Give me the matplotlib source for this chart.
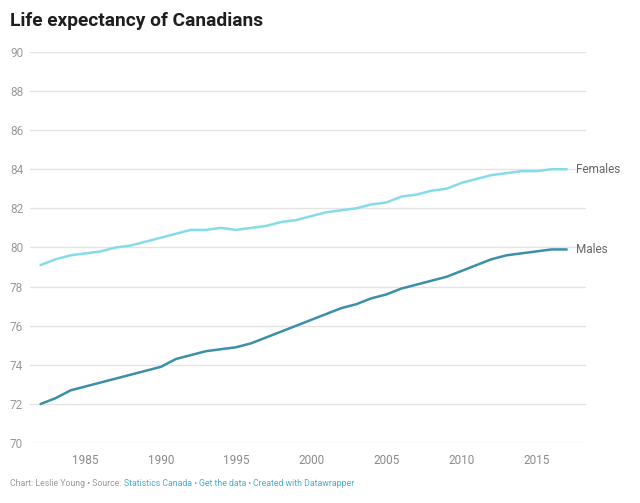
import matplotlib
matplotlib.use('Agg')
import matplotlib.pyplot as plt

years = list(range(1982, 2018))
females = [79.1, 79.4, 79.6, 79.7, 79.8, 80.0, 80.1, 80.3, 80.5, 80.7,
           80.9, 80.9, 81.0, 80.9, 81.0, 81.1, 81.3, 81.4, 81.6, 81.8,
           81.9, 82.0, 82.2, 82.3, 82.6, 82.7, 82.9, 83.0, 83.3, 83.5,
           83.7, 83.8, 83.9, 83.9, 84.0, 84.0]
males = [72.0, 72.3, 72.7, 72.9, 73.1, 73.3, 73.5, 73.7, 73.9, 74.3,
         74.5, 74.7, 74.8, 74.9, 75.1, 75.4, 75.7, 76.0, 76.3, 76.6,
         76.9, 77.1, 77.4, 77.6, 77.9, 78.1, 78.3, 78.5, 78.8, 79.1,
         79.4, 79.6, 79.7, 79.8, 79.9, 79.9]
y_ticks = [70, 72, 74, 76, 78, 80, 82, 84, 86, 88, 90]
x_ticks = [1985, 1990, 1995, 2000, 2005, 2010, 2015]

plt.rcParams['font.family'] = ['Roboto', 'DejaVu Sans']

fig = plt.figure(figsize=(6.4, 5.03), dpi=100)
ax = fig.add_axes([0.047, 0.119, 0.869, 0.778])

c_f = '#86dbe8'
c_m = '#3b8fa9'
ax.plot(years, females, color=c_f, lw=1.8, solid_capstyle='round')
ax.plot(years, males, color=c_m, lw=1.8, solid_capstyle='round')

ax.set_xlim(1981.3, 2018.3)
ax.set_ylim(70, 90)
ax.set_yticks(y_ticks)
ax.set_xticks(x_ticks)
ax.grid(axis='y', color='#e3e3e3', lw=1)
ax.set_axisbelow(True)
for s in ax.spines.values():
    s.set_visible(False)
ax.tick_params(axis='y', length=0, pad=5, labelsize=8.5, labelcolor='#9a9a9a')
ax.tick_params(axis='x', length=0, pad=8, labelsize=8.5, labelcolor='#8a8a8a')

# line end labels
ax.text(years[-1] + 0.6, females[-1], 'Females', color='#666666', fontsize=8.5, va='center', ha='left')
ax.text(years[-1] + 0.6, males[-1], 'Males', color='#666666', fontsize=8.5, va='center', ha='left')

fig.text(0.015, 0.958, 'Life expectancy of Canadians', fontsize=13.8, fontweight='bold',
         color='#1e1e1e', va='center')

# footer made of gray and blue pieces
pieces = [('Chart: Leslie Young \u2022 Source: ', '#9a9a9a'),
          ('Statistics Canada', '#4aaed0'),
          (' \u2022 ', '#9a9a9a'),
          ('Get the data', '#4aaed0'),
          (' \u2022 ', '#9a9a9a'),
          ('Created with Datawrapper', '#4aaed0')]
fig.canvas.draw()
renderer = fig.canvas.get_renderer()
x = 10
for txt, col in pieces:
    t = fig.text(x / 640, 1 - 484 / 503, txt, fontsize=6.3, color=col, va='center', ha='left')
    x += t.get_window_extent(renderer).width

fig.savefig('out.png', dpi=100, facecolor='white')
